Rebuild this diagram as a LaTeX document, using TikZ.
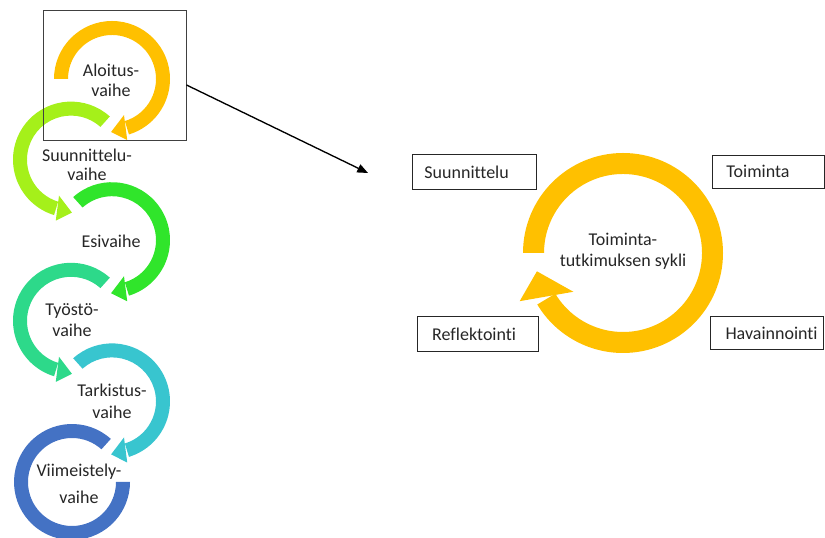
\documentclass[tikz,border=0pt]{standalone}
\usepackage{fontspec}
\setmainfont{Carlito}[Ligatures={NoCommon,NoContextual}]
\usetikzlibrary{calc,fit,arrows.meta}

\definecolor{cgold}{HTML}{FFC000}
\definecolor{clime}{HTML}{A5F01A}
\definecolor{cgreen}{HTML}{30E52B}
\definecolor{cteal}{HTML}{2DD98A}
\definecolor{ccyan}{HTML}{38C5CF}
\definecolor{cblue}{HTML}{4472C4}
\definecolor{ctext}{HTML}{262626}

% annular band: centre, inner r, outer r, start angle, end angle, colour
\newcommand{\ringband}[6]{%
  \fill[#6] ($(#1)+(#4:#3)$) arc[start angle=#4, end angle=#5, radius=#3]
    -- ($(#1)+(#5:#2)$) arc[start angle=#5, end angle=#4, radius=#2] -- cycle;}
% triangular head: centre, colour, inner corner, outer corner, tip (angle:radius)
\newcommand{\ringhead}[5]{%
  \fill[#2] ($(#1)+(#3)$) -- ($(#1)+(#4)$) -- ($(#1)+(#5)$) -- cycle;}

\begin{document}
\begin{tikzpicture}[x=0.75pt,y=0.75pt,
  lbl/.style={text=ctext, align=center, inner sep=0pt},
  rbox/.style={draw=black!85, line width=0.75pt, text=ctext, anchor=west,
    align=left, inner ysep=0pt, font=\fontsize{13.5pt}{15pt}\selectfont},
  framebox/.style={draw=black!75, line width=0.75pt, inner sep=0pt}]
\useasboundingbox (0,0) rectangle (825,538);

% centres of the small ring arrows and of the cycle
\coordinate (c1) at (112,459);
\coordinate (c2) at (71,378.4);
\coordinate (c3) at (112,297.8);
\coordinate (c4) at (71,217.2);
\coordinate (c5) at (112,136.6);
\coordinate (c6) at (72,56);
\coordinate (cc) at (623,285);

% phase rings
\ringband{c1}{44}{58}{180}{-73}{cgold}
\ringhead{c1}{cgold}{-71.6:38}{-76:63}{-91:53}
\ringband{c2}{44}{58}{48}{253}{clime}
\ringhead{c2}{clime}{251.6:38}{256:63}{271:53}
\ringband{c3}{44}{58}{132}{-73}{cgreen}
\ringhead{c3}{cgreen}{-71.6:38}{-76:63}{-91:53}
\ringband{c4}{44}{58}{48}{253}{cteal}
\ringhead{c4}{cteal}{251.6:38}{256:63}{271:53}
\ringband{c5}{44}{58}{132}{-73}{ccyan}
\ringhead{c5}{ccyan}{-71.6:38}{-76:63}{-91:53}
\ringband{c6}{44}{58}{48}{360}{cblue}

% phase labels
\node[lbl, font=\fontsize{13.5pt}{15pt}\selectfont] (p1) at (111,458) {Aloitus-\\vaihe};
\node[lbl, font=\fontsize{13.5pt}{14.25pt}\selectfont] (p2) at (87,373.5) {Suunnittelu-\\vaihe};
\node[lbl, font=\fontsize{13.5pt}{15pt}\selectfont] (p3) at (111,297) {Esivaihe};
\node[lbl, font=\fontsize{13.5pt}{15.75pt}\selectfont] (p4) at (72,217.5) {Työstö-\\vaihe};
\node[lbl, font=\fontsize{13.5pt}{16.5pt}\selectfont] (p5) at (112,137) {Tarkistus-\\vaihe};
\node[lbl, font=\fontsize{13.5pt}{20.25pt}\selectfont] (p6) at (79,54.5) {Viimeistely-\\vaihe};

% frame around the first phase
\coordinate (f1) at (43,527);
\coordinate (f2) at (186,397);
\node[framebox, fit=(f1)(f2)] (frame) {};

% action research cycle
\ringband{cc}{79}{100}{180}{-149}{cgold}
\ringhead{cc}{cgold}{-142:63}{-155:114}{-168:88}
\node[lbl, font=\fontsize{13.5pt}{15.75pt}\selectfont] (cyc) at (623,286.5) {Toiminta-\\tutkimuksen sykli};

% stage boxes
\node[rbox, minimum height=26.25pt, inner xsep=9.2pt, text width=74.8pt] (suun) at (411.7,365.5) {Suunnittelu};
\node[rbox, minimum height=25pt, inner xsep=10.7pt, text width=62.5pt] (toim) at (711.7,366.3) {Toiminta};
\node[rbox, minimum height=26.25pt, inner xsep=11.25pt, text width=68.5pt] (refl) at (416.7,203.8) {Reflektointi};
\node[rbox, minimum height=25pt, inner xsep=11.25pt, text width=62.6pt] (hava) at (710,204.7) {Havainnointi};

% zoom arrow from the first phase to the cycle
\coordinate (ztip) at (368,365);
\draw[line width=1pt, -{Triangle[length=8pt,width=6.5pt]}] ([yshift=-6.75pt]frame.east) -- (ztip);
\end{tikzpicture}
\end{document}
